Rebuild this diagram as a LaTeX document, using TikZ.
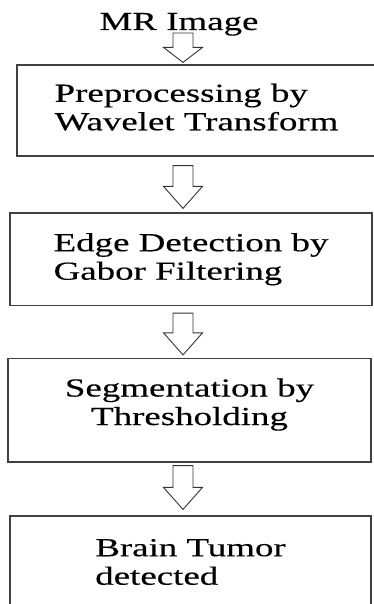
\documentclass[tikz,border=0pt]{standalone}
\usepackage{fontspec}
\setmainfont{Liberation Serif}[FakeStretch=1.42,FakeBold=0.3]
\usetikzlibrary{calc}

\def\arrowx{183pt}
% hollow block arrow: tail, tip, head length
\newcommand{\hollowarrow}[3]{%
  \draw[hollow] let \p1=#1, \p2=#2 in
    (\arrowx-10pt,\y1) -- (\arrowx+10pt,\y1) -- (\arrowx+10pt,\y2+#3) -- (\arrowx+19.5pt,\y2+#3)
    -- (\arrowx,\y2) -- (\arrowx-19.5pt,\y2+#3) -- (\arrowx-10pt,\y2+#3) -- cycle;}

\begin{document}
\begin{tikzpicture}[x=1pt,y=-1pt,font=\fontsize{26}{28.5}\selectfont]

\tikzstyle{stage}=[rectangle,draw=black!75,line width=1.2pt,inner sep=0pt]
\tikzstyle{hollow}=[draw=black!80,line width=0.9pt,line join=miter]

\useasboundingbox (0,0) rectangle (373,604);

%input
\node[anchor=base] (mri) at (179,30) {MR Image};

%stages
\node[stage,minimum width=359pt,minimum height=91pt,align=left,text depth=7pt] (prep) at (196.5,110.5) {Preprocessing by\\Wavelet Transform};
\node[stage,minimum width=362pt,minimum height=92.5pt,align=left] (edge) at (191,259.25) {Edge Detection by\\Gabor Filtering};
\node[stage,minimum width=363pt,minimum height=103.5pt,align=center,text depth=17pt] (seg) at (189.5,410.25) {Segmentation by\\Thresholding};
\node[stage,minimum width=361pt,minimum height=92pt,align=left] (tumor) at (190.5,562) {Brain Tumor\\detected};

%arrows
\hollowarrow{([yshift=-3pt]mri.base)}{([yshift=2pt]prep.north)}{15pt}
\hollowarrow{([yshift=-9pt]prep.south)}{([yshift=4pt]edge.north)}{22pt}
\hollowarrow{([yshift=-7pt]edge.south)}{([yshift=3pt]seg.north)}{22pt}
\hollowarrow{([yshift=-3pt]seg.south)}{([yshift=6pt]tumor.north)}{22pt}

\end{tikzpicture}
\end{document}
